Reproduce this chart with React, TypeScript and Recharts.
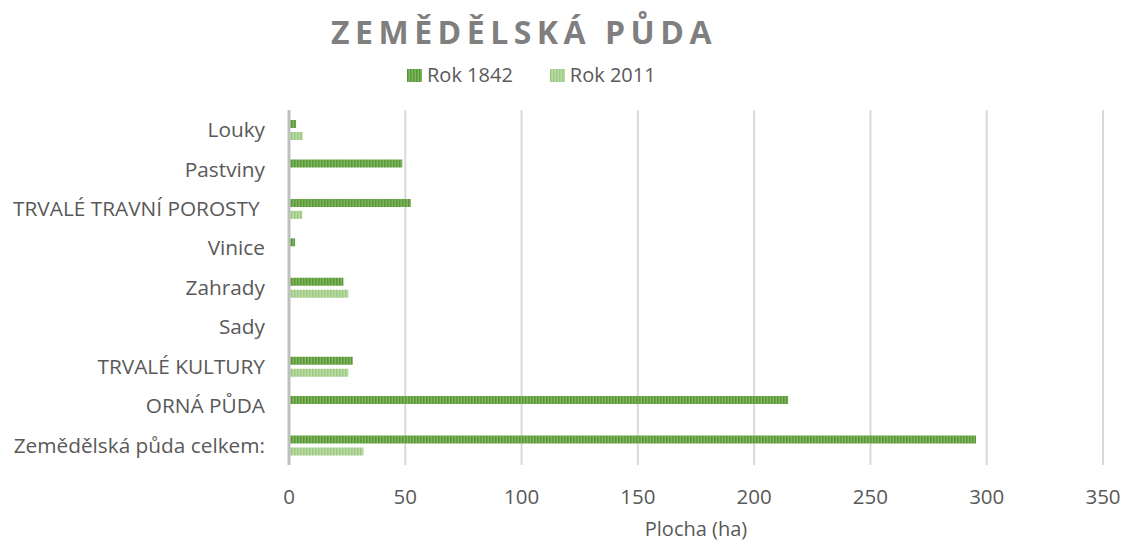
import React from "react";
import { BarChart, Bar, XAxis, YAxis, CartesianGrid, Legend } from "recharts";

const categories = [
  "Louky",
  "Pastviny",
  "TRVALÉ TRAVNÍ POROSTY\u00A0",
  "Vinice",
  "Zahrady",
  "Sady",
  "TRVALÉ KULTURY",
  "ORNÁ PŮDA",
  "Zemědělská půda celkem:",
];
const rok1842 = [3, 48.7, 52.4, 2.6, 23.4, 0, 27.4, 214.6, 295.4];
const rok2011 = [5.9, 0, 5.7, 0, 25.5, 0, 25.5, 0, 32];
const xTicks = [0, 50, 100, 150, 200, 250, 300, 350];

const data = categories.map((name, i) => ({ name, r1842: rok1842[i], r2011: rok2011[i] }));

const FONT = "'Open Sans', sans-serif";
const TEXT = "#595959";

const renderLegend = (props: any) => {
  const { payload } = props;
  return (
    <div style={{ display: "flex", alignItems: "center", fontFamily: FONT, fontSize: 20, lineHeight: "20px", color: TEXT }}>
      {payload.map((entry: any, i: number) => (
        <div key={`leg-${i}`} style={{ display: "flex", alignItems: "center", marginRight: 37 }}>
          <svg width={15} height={13} style={{ marginRight: 5 }}>
            <rect width={15} height={13} fill={entry.color} />
          </svg>
          <span>{entry.value}</span>
        </div>
      ))}
    </div>
  );
};

export default function App() {
  return (
    <div style={{ position: "absolute", left: 0, top: 0, width: 1125, height: 542, background: "#fff", fontFamily: FONT }}>
      <div
        style={{
          position: "absolute",
          left: 331,
          top: 16,
          fontSize: 32,
          lineHeight: "32px",
          fontWeight: 700,
          letterSpacing: 5.5,
          color: "#7f7f7f",
          whiteSpace: "nowrap",
        }}
      >
        ZEMĚDĚLSKÁ PŮDA
      </div>
      <BarChart
        width={1125}
        height={542}
        data={data}
        layout="vertical"
        margin={{ top: 110, right: 22, bottom: 0, left: 0 }}
        barSize={8}
        barGap={4}
      >
        <defs>
          <pattern id="p1842" width={3} height={8} patternUnits="userSpaceOnUse">
            <rect width={3} height={8} fill="#7db65c" />
            <rect width={1.5} height={8} fill="#5b9638" />
          </pattern>
          <pattern id="p2011" width={3} height={8} patternUnits="userSpaceOnUse">
            <rect width={3} height={8} fill="#bcdca6" />
            <rect width={1.5} height={8} fill="#9dc884" />
          </pattern>
        </defs>
        <CartesianGrid horizontal={false} stroke="#d9d9d9" strokeWidth={2} />
        <XAxis
          type="number"
          domain={[0, 350]}
          ticks={xTicks}
          axisLine={false}
          tickLine={false}
          tickSize={0}
          tickMargin={24}
          height={77}
          tick={{ fill: TEXT, fontSize: 20.5, fontFamily: FONT }}
          label={{ value: "Plocha (ha)", position: "insideBottom", offset: 6, fill: TEXT, fontSize: 20, fontFamily: FONT }}
        />
        <YAxis
          type="category"
          dataKey="name"
          width={289}
          axisLine={{ stroke: "#bfbfbf", strokeWidth: 3 }}
          tickLine={false}
          tickSize={0}
          tickMargin={24}
          interval={0}
          tick={{ fill: TEXT, fontSize: 20.8, fontFamily: FONT }}
        />
        <Legend
          layout="horizontal"
          verticalAlign="middle"
          align="center"
          wrapperStyle={{ top: 65, left: 407, width: "auto" }}
          content={renderLegend}
        />
        <Bar dataKey="r1842" name="Rok 1842" fill="url(#p1842)" isAnimationActive={false} />
        <Bar dataKey="r2011" name="Rok 2011" fill="url(#p2011)" isAnimationActive={false} />
      </BarChart>
    </div>
  );
}
